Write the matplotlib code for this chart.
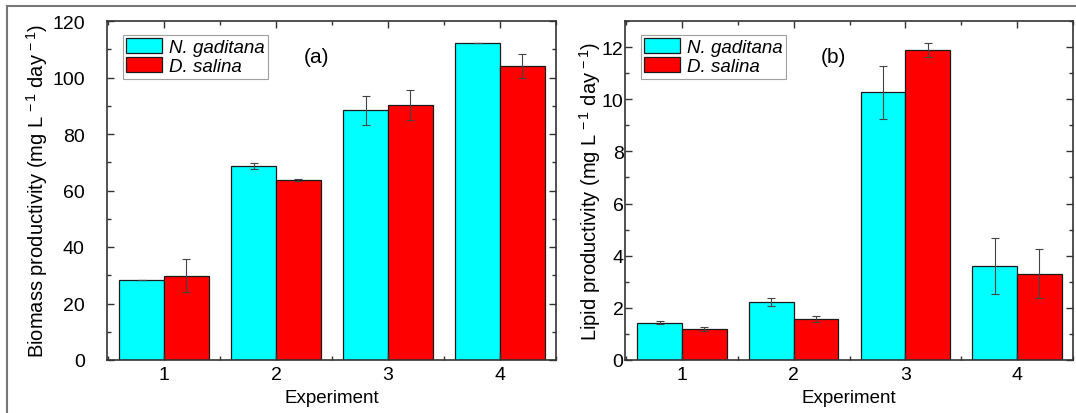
import numpy as np
import matplotlib.pyplot as plt
from matplotlib.ticker import MultipleLocator
from matplotlib.lines import Line2D

plt.rcParams['font.family'] = ['Liberation Sans', 'DejaVu Sans']
plt.rcParams['mathtext.fontset'] = 'custom'
plt.rcParams['mathtext.rm'] = 'Liberation Sans'
plt.rcParams['mathtext.it'] = 'Liberation Sans:italic'

experiments = [1, 2, 3, 4]
species = ["N. gaditana", "D. salina"]

# biomass productivity (mg L-1 day-1)
biomass_ng = [28.4, 68.7, 88.4, 112.1]
biomass_ng_err = [0.0, 1.2, 5.2, 0.0]
biomass_ds = [29.8, 63.7, 90.3, 104.0]
biomass_ds_err = [5.8, 0.3, 5.3, 4.2]

# lipid productivity (mg L-1 day-1)
lipid_ng = [1.43, 2.23, 10.26, 3.60]
lipid_ng_err = [0.05, 0.16, 1.02, 1.06]
lipid_ds = [1.19, 1.57, 11.88, 3.31]
lipid_ds_err = [0.08, 0.13, 0.27, 0.93]

W, H = 1076, 414
fig = plt.figure(figsize=(W / 100, H / 100), dpi=100)

def px_axes(left, top, right, bottom):
    return fig.add_axes([left / W, 1 - bottom / H, (right - left) / W, (bottom - top) / H])

ax_a = px_axes(107, 22, 556, 361)
ax_b = px_axes(625, 22, 1073, 361)

x = np.array(experiments)
bw = 0.4
err_kw = dict(ecolor='#444444', elinewidth=0.8, capsize=3, capthick=0.8)

def draw(ax, v1, e1, v2, e2, ylim, major, ylabel, tag, ypad, ylab_x):
    ax.bar(x - bw / 2, v1, bw, yerr=e1, color='#00FFFF', edgecolor='#1a1a1a',
           linewidth=0.9, label=species[0], error_kw=err_kw)
    ax.bar(x + bw / 2, v2, bw, yerr=e2, color='#FF0000', edgecolor='#1a1a1a',
           linewidth=0.9, label=species[1], error_kw=err_kw)
    ax.set_xlim(0.49, 4.5)
    ax.set_ylim(*ylim)
    ax.set_xticks(experiments)
    ax.xaxis.set_minor_locator(MultipleLocator(0.5))
    ax.yaxis.set_major_locator(MultipleLocator(major))
    ax.yaxis.set_minor_locator(MultipleLocator(major / 2))
    ax.tick_params(which='both', direction='in', top=True, right=True,
                   width=1, color='#333333')
    ax.tick_params(which='major', length=5, labelsize=14)
    ax.tick_params(which='minor', length=3)
    ax.tick_params(axis='x', which='major', pad=4)
    ax.tick_params(axis='y', which='major', pad=ypad)
    for s in ax.spines.values():
        s.set_linewidth(1.2)
        s.set_color('#333333')
    ax.set_xlabel("Experiment", fontsize=13.5, labelpad=5)
    ax.set_ylabel(ylabel, fontsize=14.5)
    ax.yaxis.set_label_coords(ylab_x, 0.5)
    leg = ax.legend(loc='upper left', bbox_to_anchor=(0.035, 0.96),
                    prop={'style': 'italic', 'size': 13.5}, frameon=True,
                    fancybox=False, edgecolor='#888888', borderpad=0.2,
                    handlelength=1.9, handleheight=0.85, handletextpad=0.35,
                    labelspacing=0.05, borderaxespad=0)
    leg.get_frame().set_linewidth(0.8)
    ax.text(0.438, 0.895, tag, transform=ax.transAxes, fontsize=15,
            ha='left', va='center')

draw(ax_a, biomass_ng, biomass_ng_err, biomass_ds, biomass_ds_err,
     (0, 120), 20, r"Biomass productivity (mg L$^{\,-1}$ day$^{\,-1}$)", "(a)",
     16, -0.128)
draw(ax_b, lipid_ng, lipid_ng_err, lipid_ds, lipid_ds_err,
     (0, 13), 2, r"Lipid productivity (mg L$^{\,-1}$ day$^{\,-1}$)", "(b)",
     1, -0.048)

# outer frame of the figure
fig.add_artist(Line2D([7 / W, 1], [1 - 7 / H, 1 - 7 / H], color='#777777', lw=1.5))
fig.add_artist(Line2D([7 / W, 7 / W], [0, 1 - 7 / H], color='#777777', lw=1.5))

fig.savefig('out.png', dpi=100)
